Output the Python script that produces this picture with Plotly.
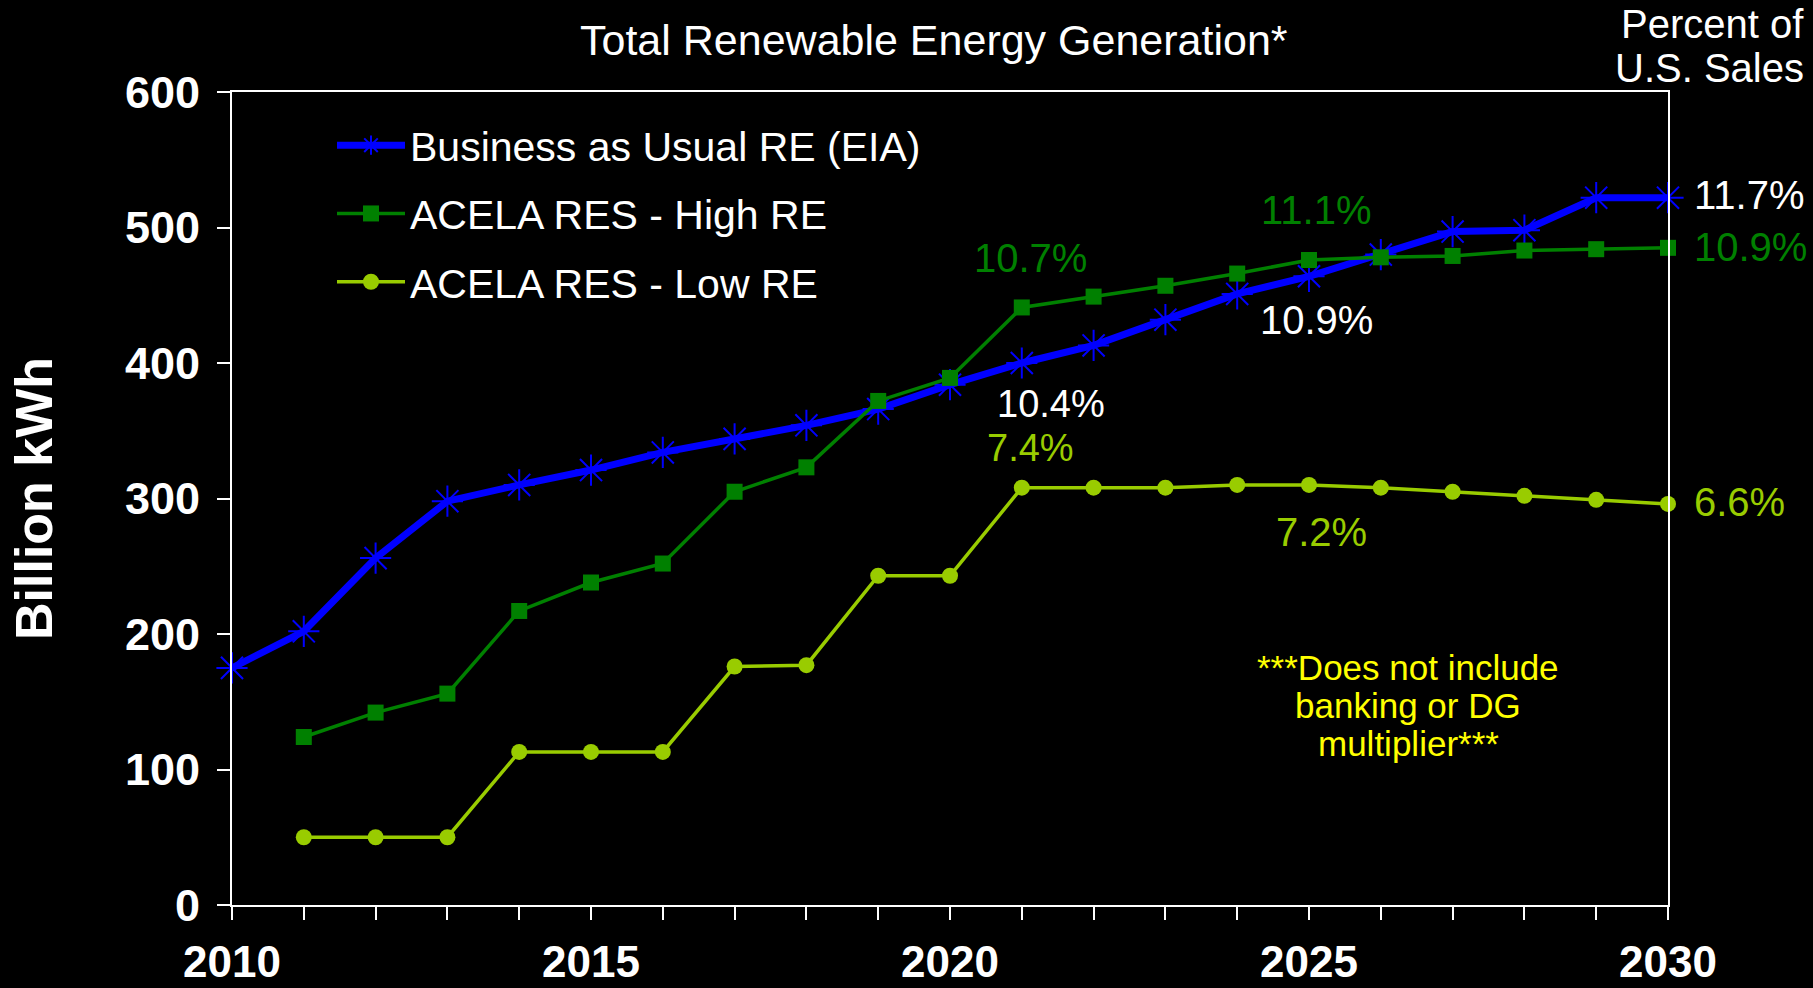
import plotly.graph_objects as go

years = list(range(2010, 2031))
bau_re = [175, 202, 256, 298, 310, 321, 334, 344, 354, 366, 384, 400,
          413, 432, 451, 464, 480, 497, 498, 522, 522]
years_res = list(range(2011, 2031))
high_re = [124, 142, 156, 217, 238, 252, 305, 323, 372, 389, 441,
           449, 457, 466, 476, 478, 479, 483, 484, 485]
low_re = [50, 50, 50, 113, 113, 113, 176, 177, 243, 243, 308,
          308, 308, 310, 310, 308, 305, 302, 299, 296]

series_names = ["Business as Usual RE (EIA)", "ACELA RES - High RE", "ACELA RES - Low RE"]
x_tick_vals = [2010, 2015, 2020, 2025, 2030]
y_tick_vals = [0, 100, 200, 300, 400, 500, 600]

FONT = "Liberation Sans, Arial, sans-serif"
BLUE = "#0000FF"
GREEN = "#008000"
LIME = "#99CC00"
WHITE = "#FFFFFF"
YELLOW = "#FFFF00"

W, H = 1813, 988
L, R, T, B = 232, 145, 92, 83
pw, ph = W - L - R, H - T - B

def px(xp):
    return (xp - L) / pw

def py(yp):
    return (H - B - yp) / ph

fig = go.Figure()
fig.add_trace(go.Scatter(
    x=years, y=bau_re, name=series_names[0], mode="lines+markers",
    line=dict(color=BLUE, width=7),
    marker=dict(symbol="asterisk-open", size=26, color=BLUE, line=dict(color=BLUE, width=2)),
    cliponaxis=False, legendgroup="a"))
fig.add_trace(go.Scatter(
    x=years_res, y=high_re, name=series_names[1], mode="lines+markers",
    line=dict(color=GREEN, width=3.5),
    marker=dict(symbol="square", size=16, color=GREEN),
    cliponaxis=False, legendgroup="b"))
fig.add_trace(go.Scatter(
    x=years_res, y=low_re, name=series_names[2], mode="lines+markers",
    line=dict(color=LIME, width=3.5),
    marker=dict(symbol="circle", size=16, color=LIME),
    cliponaxis=False, legendgroup="c"))

def ann(text, xp, yp, color, size=40, xanchor="center", **kw):
    fig.add_annotation(text=text, x=px(xp), y=py(yp), xref="paper", yref="paper",
                       showarrow=False, xanchor=xanchor, yanchor="middle",
                       font=dict(family=FONT, size=size, color=color), **kw)

# percent labels (pixel positions)
ann("10.7%", 1030, 258, GREEN)
ann("11.1%", 1316, 210, GREEN)
ann("10.9%", 1316, 320, WHITE)
ann("10.4%", 1051, 404, WHITE, size=38)
ann("7.4%", 1030, 448, LIME, size=38)
ann("7.2%", 1321, 532, LIME)
ann("11.7%", 1692, 195, WHITE, xanchor="left")
ann("10.9%", 1692, 247, GREEN, xanchor="left")
ann("6.6%", 1692, 502, LIME, xanchor="left")

# footnote
ann("***Does not include", 1408, 667, YELLOW, size=35)
ann("banking or DG", 1408, 705, YELLOW, size=35)
ann("multiplier***", 1408, 743, YELLOW, size=35)

# title, right header, y title
ann("Total Renewable Energy Generation*", 934, 40, WHITE, size=43)
ann("Percent of", 1806, 24, WHITE, size=40, xanchor="right")
ann("U.S. Sales", 1806, 68, WHITE, size=40, xanchor="right")
ann("<b>Billion kWh</b>", 34, 499, WHITE, size=52, textangle=-90)

fig.update_layout(
    width=W, height=H,
    margin=dict(l=L, r=R, t=T, b=B, autoexpand=False),
    paper_bgcolor="black", plot_bgcolor="black",
    font=dict(family=FONT, color=WHITE),
    showlegend=True,
    legend=dict(x=px(332), y=py(112), xanchor="left", yanchor="top",
                bgcolor="rgba(0,0,0,0)", borderwidth=0,
                font=dict(family=FONT, size=41, color=WHITE),
                tracegroupgap=12, itemwidth=68),
    xaxis=dict(range=[2010, 2030], tickvals=x_tick_vals, ticks="outside", ticklen=13,
               tickwidth=2, tickcolor=WHITE, showline=True, linecolor=WHITE, linewidth=2,
               mirror=True, showgrid=False, zeroline=False, automargin=False,
               tickfont=dict(family=FONT, size=44, color=WHITE, weight="bold"),
               ticklabelstandoff=4,
               minor=dict(dtick=1, ticks="outside", ticklen=13, tickwidth=2, tickcolor=WHITE,
                          showgrid=False)),
    yaxis=dict(range=[0, 600], tickvals=y_tick_vals, ticks="outside", ticklen=13,
               tickwidth=2, tickcolor=WHITE, showline=True, linecolor=WHITE, linewidth=2,
               mirror=True, showgrid=False, zeroline=False, automargin=False,
               tickfont=dict(family=FONT, size=45, color=WHITE, weight="bold"),
               ticklabelstandoff=8),
)

fig.write_html("out.html", config={"displayModeBar": False},
               post_script="document.body.style.margin='0';document.body.style.background='black';")
